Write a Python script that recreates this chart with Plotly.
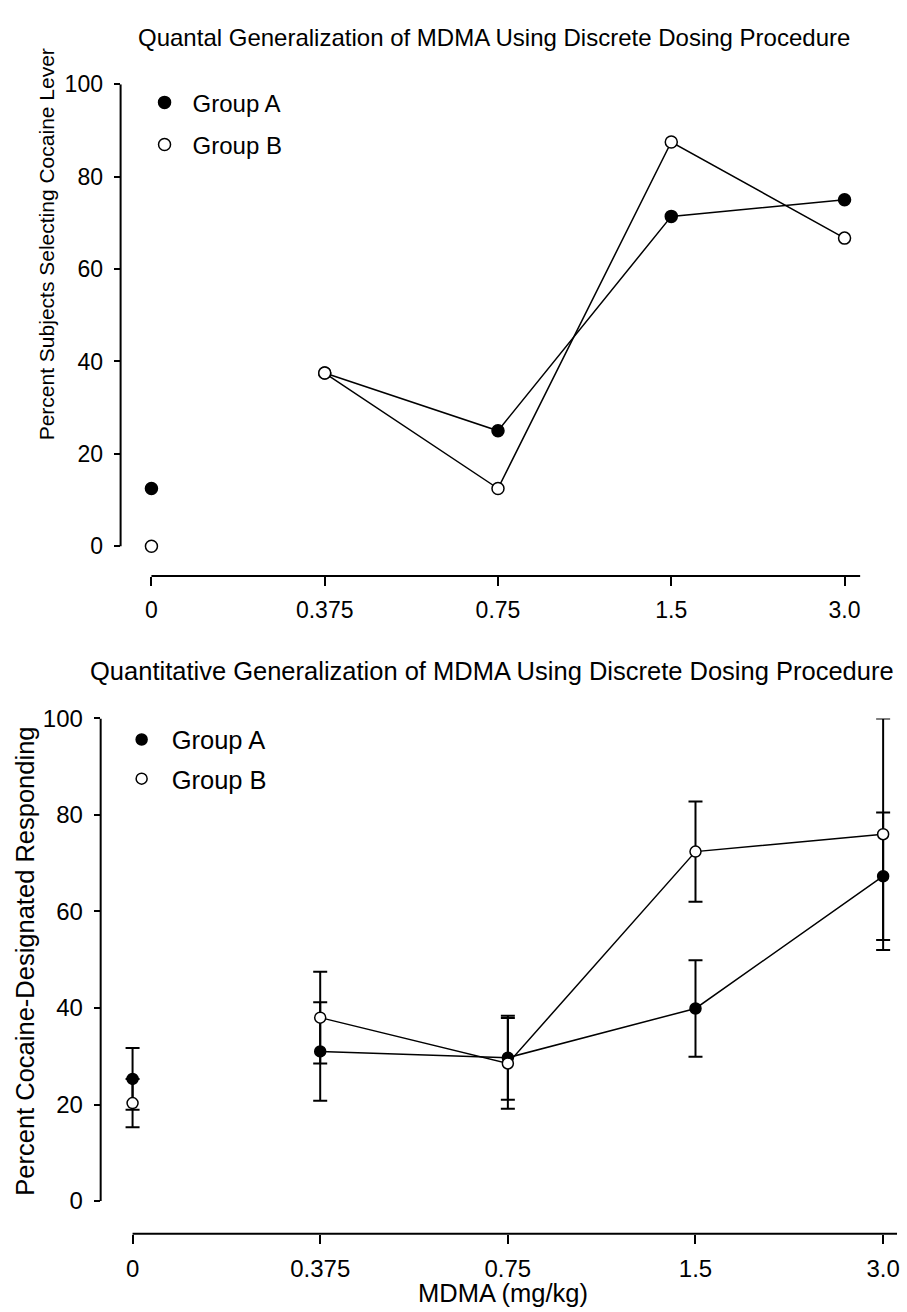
import plotly.graph_objects as go

# ---------------- data ----------------
doses = ["0", "0.375", "0.75", "1.5", "3.0"]

quantal_a = [12.5, 37.5, 25.0, 71.4, 75.0]
quantal_b = [0.0, 37.5, 12.5, 87.5, 66.7]

quant_a = [25.3, 31.0, 29.7, 39.9, 67.3]
quant_a_err = [6.4, 10.2, 8.7, 10.0, 13.2]
quant_b = [20.3, 38.0, 28.5, 72.4, 76.0]
quant_b_err = [5.0, 9.5, 9.4, 10.4, 24.0]

y_ticks = [0, 20, 40, 60, 80, 100]

title_top = "Quantal Generalization of MDMA Using Discrete Dosing Procedure"
title_bot = "Quantitative Generalization of MDMA Using Discrete Dosing Procedure"
ytitle_top = "Percent Subjects Selecting Cocaine Lever"
ytitle_bot = "Percent Cocaine-Designated Responding"
xtitle_bot = "MDMA (mg/kg)"

# ---------------- layout geometry ----------------
W, H = 907, 1312
FONT = "Liberation Sans, Arial, sans-serif"
FS_TOP = 24
FS_BOT = 25.5

def py(p):
    return 1 - p / H

def px(p):
    return p / W

top_xr = [-0.178, 4.09]
top_yr = [-6.42, 100]
bot_xr = [-0.17, 4.074]
bot_yr = [-6.8, 100]

fig = go.Figure()

blk = "black"
mk_a = dict(symbol="circle", color=blk, size=12, line=dict(color=blk, width=1.5))
mk_b = dict(symbol="circle", color="white", size=12, line=dict(color=blk, width=1.5))
ln = dict(color=blk, width=1.5)

# ---- top panel ----
fig.add_trace(go.Scatter(x=doses[:1], y=quantal_a[:1], mode="markers", marker=mk_a,
                         name="Group A", xaxis="x", yaxis="y", legend="legend",
                         legendgroup="ta", cliponaxis=False))
fig.add_trace(go.Scatter(x=doses[1:], y=quantal_a[1:], mode="lines+markers", marker=mk_a,
                         line=ln, showlegend=False, xaxis="x", yaxis="y", cliponaxis=False))
fig.add_trace(go.Scatter(x=doses[:1], y=quantal_b[:1], mode="markers", marker=mk_b,
                         name="Group B", xaxis="x", yaxis="y", legend="legend",
                         legendgroup="tb", cliponaxis=False))
fig.add_trace(go.Scatter(x=doses[1:], y=quantal_b[1:], mode="lines+markers", marker=mk_b,
                         line=ln, showlegend=False, xaxis="x", yaxis="y", cliponaxis=False))

# ---- bottom panel ----
mk_a2 = dict(mk_a, size=11)
mk_b2 = dict(mk_b, size=11)

def eb(arr, lo, hi):
    return dict(type="data", array=arr[lo:hi], visible=True, color=blk, thickness=2, width=7)

fig.add_trace(go.Scatter(x=doses[:1], y=quant_a[:1], mode="markers", marker=mk_a2,
                         error_y=eb(quant_a_err, 0, 1),
                         name="Group A", xaxis="x2", yaxis="y2", legend="legend2",
                         legendgroup="ba", cliponaxis=False))
fig.add_trace(go.Scatter(x=doses[1:], y=quant_a[1:], mode="lines+markers", marker=mk_a2,
                         error_y=eb(quant_a_err, 1, 5), line=ln, showlegend=False,
                         xaxis="x2", yaxis="y2", cliponaxis=False))
fig.add_trace(go.Scatter(x=doses[:1], y=quant_b[:1], mode="markers", marker=mk_b2,
                         error_y=eb(quant_b_err, 0, 1),
                         name="Group B", xaxis="x2", yaxis="y2", legend="legend2",
                         legendgroup="bb", cliponaxis=False))
fig.add_trace(go.Scatter(x=doses[1:], y=quant_b[1:], mode="lines+markers", marker=mk_b2,
                         error_y=eb(quant_b_err, 1, 5), line=ln, showlegend=False,
                         xaxis="x2", yaxis="y2", cliponaxis=False))

def xax(fs, **kw):
    d = dict(type="category", showline=False, showgrid=False, zeroline=False,
             ticks="outside", ticklen=9, tickwidth=2, tickcolor=blk,
             tickfont=dict(family=FONT, size=fs, color=blk), ticklabelstandoff=4,
             fixedrange=True)
    d.update(kw)
    return d

def yax(fs, **kw):
    d = dict(showline=False, showgrid=False, zeroline=False,
             ticks="outside", ticklen=6, tickwidth=2, tickcolor=blk,
             tickmode="array", tickvals=y_ticks, ticktext=[str(v) for v in y_ticks],
             tickfont=dict(family=FONT, size=fs, color=blk), ticklabelstandoff=6,
             fixedrange=True)
    d.update(kw)
    return d

fig.update_layout(
    width=W, height=H,
    margin=dict(l=0, r=0, t=0, b=0),
    paper_bgcolor="white", plot_bgcolor="white",
    font=dict(family=FONT, size=FS_TOP, color=blk),
    xaxis=xax(23, domain=[px(121), px(863)], range=top_xr, anchor="y"),
    yaxis=yax(23, domain=[py(568), py(71)], range=top_yr, anchor="x"),
    xaxis2=xax(24, domain=[px(101), px(900)], range=bot_xr, anchor="y2"),
    yaxis2=yax(24, domain=[py(1233), py(712)], range=bot_yr, anchor="x2"),
    legend=dict(x=px(137), y=py(67), xanchor="left", yanchor="top",
                bgcolor="rgba(0,0,0,0)", font=dict(family=FONT, size=FS_TOP, color=blk),
                tracegroupgap=8, itemsizing="trace", itemwidth=46),
    legend2=dict(x=px(112), y=py(710), xanchor="left", yanchor="top",
                 bgcolor="rgba(0,0,0,0)", font=dict(family=FONT, size=FS_BOT, color=blk),
                 tracegroupgap=3, itemsizing="trace", itemwidth=50),
    showlegend=True,
)

# axis lines (detached, Prism style)
def frac(v, r):
    return (v - r[0]) / (r[1] - r[0])

lw = 2
shapes = [
    dict(type="line", xref="x domain", yref="y", x0=0, x1=0, y0=0, y1=100,
         line=dict(color=blk, width=lw)),
    dict(type="line", xref="x domain", yref="y domain", x0=frac(0, top_xr), x1=1, y0=0, y1=0,
         line=dict(color=blk, width=lw)),
    dict(type="line", xref="x2 domain", yref="y2", x0=0, x1=0, y0=0, y1=100,
         line=dict(color=blk, width=lw)),
    dict(type="line", xref="x2 domain", yref="y2 domain", x0=frac(0, bot_xr), x1=1, y0=0, y1=0,
         line=dict(color=blk, width=lw)),
]
fig.update_layout(shapes=shapes)

ann = [
    dict(text=title_top, x=px(496), y=py(24), font=dict(size=FS_TOP)),
    dict(text=title_bot, x=px(494), y=py(664), font=dict(size=FS_BOT)),
    dict(text=ytitle_top, x=px(47), y=py(233), textangle=-90, font=dict(size=21)),
    dict(text=ytitle_bot, x=px(25), y=py(957), textangle=-90, font=dict(size=FS_BOT)),
    dict(text=xtitle_bot, x=px(505), y=py(1293), font=dict(size=FS_BOT)),
]
for a in ann:
    a.update(xref="paper", yref="paper", xanchor="center", yanchor="middle", showarrow=False)
fig.update_layout(annotations=ann)

fig.write_html("out.html")
